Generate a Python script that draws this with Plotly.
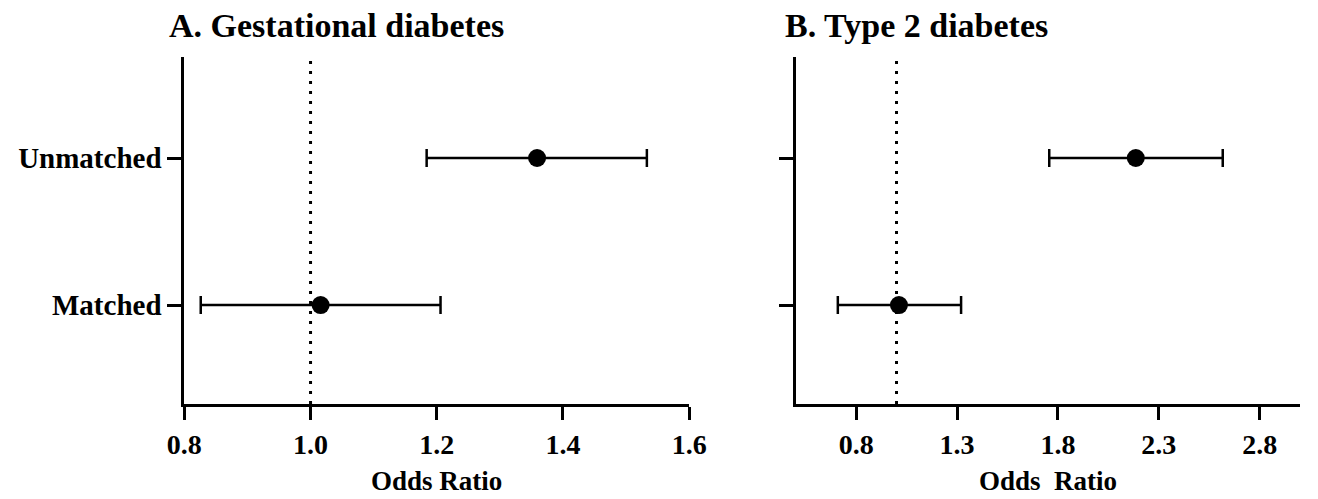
import plotly.graph_objects as go

# ---- data ----
categories = ["Matched", "Unmatched"]
gdm_or = [1.016, 1.359]
gdm_lo = [0.826, 1.184]
gdm_hi = [1.206, 1.533]
t2d_or = [1.012, 2.186]
t2d_lo = [0.709, 1.757]
t2d_hi = [1.320, 2.617]
gdm_ticks = [0.8, 1.0, 1.2, 1.4, 1.6]
t2d_ticks = [0.8, 1.3, 1.8, 2.3, 2.8]
ref_value = 1.0

W, H = 1318, 499
FONT = "Liberation Serif"

fig = go.Figure()

def add_panel(orv, lo, hi, xa, ya):
    fig.add_trace(go.Scatter(
        x=orv, y=categories, mode="markers",
        marker=dict(color="black", size=18, symbol="circle"),
        error_x=dict(type="data",
                     array=[h - o for h, o in zip(hi, orv)],
                     arrayminus=[o - l for o, l in zip(orv, lo)],
                     color="black", thickness=2.5, width=9),
        xaxis=xa, yaxis=ya, showlegend=False, cliponaxis=False,
        hoverinfo="skip"))

add_panel(gdm_or, gdm_lo, gdm_hi, "x", "y")
add_panel(t2d_or, t2d_lo, t2d_hi, "x2", "y2")

ydom = [95 / H, 442 / H]
xtickfont = dict(family=FONT, size=28, color="black", weight="bold")
ytickfont = dict(family=FONT, size=29, color="black", weight="bold")
common_x = dict(showline=True, linewidth=3, linecolor="black", showgrid=False,
                zeroline=False, ticks="outside", ticklen=13, tickwidth=3,
                tickcolor="black", tickfont=xtickfont)
common_y = dict(showline=True, linewidth=3, linecolor="black", showgrid=False,
                zeroline=False, ticks="outside", ticklen=14, tickwidth=3,
                tickcolor="black", tickfont=ytickfont, type="category",
                categoryorder="array", categoryarray=categories,
                range=[-0.673, 1.687], domain=ydom)

fig.update_layout(
    width=W, height=H,
    margin=dict(l=0, r=0, t=0, b=0),
    paper_bgcolor="white", plot_bgcolor="white",
    xaxis=dict(domain=[171 / W, 690 / W], range=[0.8, 1.6],
               tickvals=gdm_ticks, ticktext=[f"{v:.1f}" for v in gdm_ticks],
               anchor="y", **common_x),
    yaxis=dict(anchor="x", showticklabels=True, **common_y),
    xaxis2=dict(domain=[799.5 / W, 1.0], range=[0.5, 3.0],
                tickvals=t2d_ticks, ticktext=[f"{v:.1f}" for v in t2d_ticks],
                anchor="y2", **common_x),
    yaxis2=dict(anchor="x2", showticklabels=False, **common_y),
)

for xr, yr in (("x", "y domain"), ("x2", "y2 domain")):
    fig.add_shape(type="line", xref=xr, yref=yr, x0=ref_value, x1=ref_value,
                  y0=0, y1=0.99, layer="below",
                  line=dict(color="black", width=3, dash="3px,7px"))

ann = [
    ("A. Gestational diabetes", 153 / W, 474 / H, "left", 34),
    ("B. Type 2 diabetes", 786 / W, 474 / H, "left", 34),
    ("Odds Ratio", 430.5 / W, 18 / H, "center", 27),
    ("Odds\u00a0 Ratio", 1058.5 / W, 18 / H, "center", 27),
]
for txt, x, y, xa, sz in ann:
    fig.add_annotation(text=txt, x=x, y=y, xref="paper", yref="paper",
                       xanchor=xa, yanchor="middle", showarrow=False,
                       font=dict(family=FONT, size=sz, color="black", weight="bold"))

fig.write_html(
    "out.html",
    config={"displayModeBar": False, "staticPlot": True},
    post_script="document.body.style.margin='0';document.body.style.overflow='hidden';",
)
